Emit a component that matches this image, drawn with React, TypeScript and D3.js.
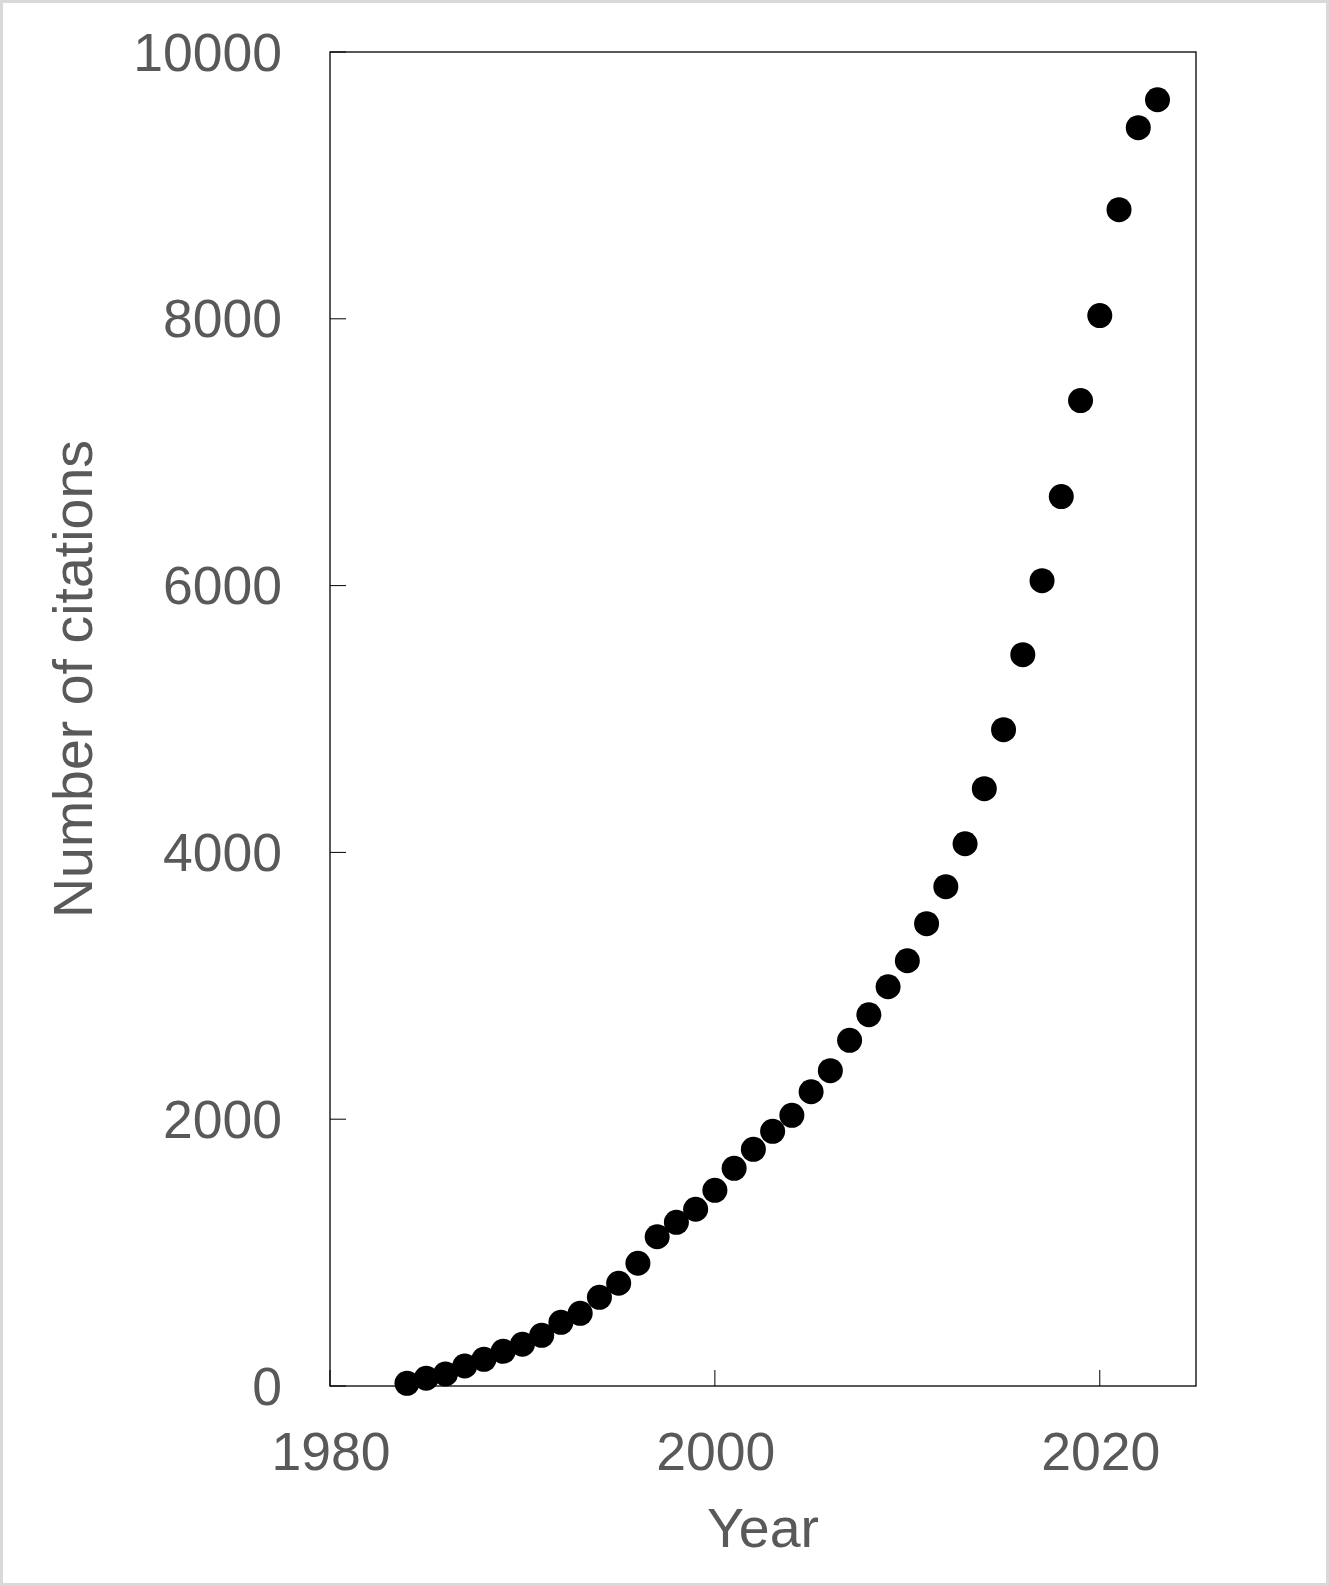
import React from "react";
import * as d3 from "d3";

const years = [
  1984, 1985, 1986, 1987, 1988, 1989, 1990, 1991, 1992, 1993,
  1994, 1995, 1996, 1997, 1998, 1999, 2000, 2001, 2002, 2003,
  2004, 2005, 2006, 2007, 2008, 2009, 2010, 2011, 2012, 2013,
  2014, 2015, 2016, 2017, 2018, 2019, 2020, 2021, 2022, 2023,
];
const citations = [
  20, 58, 90, 150, 200, 260, 313, 380, 477, 545,
  665, 770, 920, 1119, 1227, 1325, 1467, 1632, 1774, 1909,
  2029, 2206, 2364, 2591, 2783, 2993, 3188, 3466, 3743, 4065,
  4478, 4920, 5482, 6037, 6667, 7387, 8024, 8818, 9433, 9642,
];
const xTicks = [1980, 2000, 2020];
const yTicks = [0, 2000, 4000, 6000, 8000, 10000];
const xLabel = "Year";
const yLabel = "Number of citations";

const W = 1329;
const H = 1586;
const left = 330;
const right = 1196;
const top = 52;
const bottom = 1386;
const font = "'Liberation Sans', Arial, sans-serif";
const textColor = "#595959";
const fontSize = 53.5;
const titleSize = 55.5;
const tickLen = 16;

export default function App() {
  const x = d3.scaleLinear().domain([1980, 2025]).range([left, right]);
  const y = d3.scaleLinear().domain([0, 10000]).range([bottom, top]);

  return (
    <svg
      width={W}
      height={H}
      style={{ position: "absolute", left: 0, top: 0, background: "#fff" }}
    >
      <rect x={0} y={0} width={W} height={H} fill="#fff" />
      <rect
        x={1.5}
        y={1.5}
        width={W - 3}
        height={H - 3}
        fill="none"
        stroke="#d9d9d9"
        strokeWidth={3}
      />
      {yTicks.map((t) => (
        <g key={"y" + t}>
          <line
            x1={left}
            x2={left + tickLen}
            y1={y(t)}
            y2={y(t)}
            stroke="#000"
            strokeWidth={1}
          />
          <text
            x={282}
            y={y(t)}
            textAnchor="end"
            dominantBaseline="central"
            fontFamily={font}
            fontSize={fontSize}
            fill={textColor}
          >
            {t}
          </text>
        </g>
      ))}
      {xTicks.map((t) => (
        <g key={"x" + t}>
          <line
            x1={x(t)}
            x2={x(t)}
            y1={bottom}
            y2={bottom - tickLen}
            stroke="#000"
            strokeWidth={1}
          />
          <text
            x={x(t) + 1}
            y={1470}
            textAnchor="middle"
            fontFamily={font}
            fontSize={fontSize}
            fill={textColor}
          >
            {t}
          </text>
        </g>
      ))}
      <rect
        x={left}
        y={top}
        width={right - left}
        height={bottom - top}
        fill="none"
        stroke="#000"
        strokeWidth={1.3}
      />
      {years.map((yr, i) => (
        <circle key={yr} cx={x(yr)} cy={y(citations[i])} r={12.5} fill="#000" />
      ))}
      <text
        x={(left + right) / 2}
        y={1547}
        textAnchor="middle"
        fontFamily={font}
        fontSize={titleSize}
        fill={textColor}
      >
        {xLabel}
      </text>
      <text
        transform={`translate(92,679) rotate(-90)`}
        textAnchor="middle"
        fontFamily={font}
        fontSize={titleSize}
        fill={textColor}
      >
        {yLabel}
      </text>
    </svg>
  );
}
